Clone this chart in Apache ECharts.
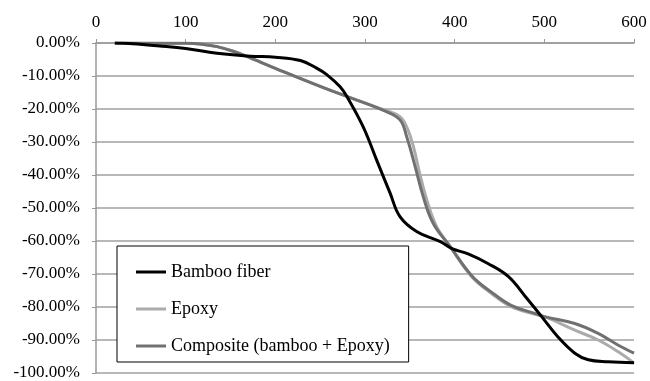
<!DOCTYPE html>
<html>
<head>
<meta charset="utf-8">
<script src="https://cdn.jsdelivr.net/npm/echarts@6/dist/echarts.min.js"></script>
<style>html,body{margin:0;padding:0;background:#fff}#c{width:650px;height:381px}</style>
</head>
<body>
<div id="c"></div>
<script>
const seriesNames = ['Bamboo fiber', 'Epoxy', 'Composite (bamboo + Epoxy)'];
const xTicks = [0, 100, 200, 300, 400, 500, 600];
const bambooX = [21, 41, 71, 100, 135, 172, 200, 228, 246, 257, 272, 280, 298, 313, 328, 339, 358, 384, 397, 415, 437, 460, 479, 497, 515, 534, 549, 571, 600];
const bambooY = [0, -0.2, -0.9, -1.7, -3.1, -4.0, -4.3, -5.3, -7.6, -9.5, -13.2, -16.3, -25.4, -35.5, -45.5, -52.6, -57.2, -60.2, -62.3, -63.9, -66.8, -70.8, -76.9, -82.9, -89, -94, -96, -96.6, -96.9];
const epoxyX = [21, 100, 116, 135, 153, 172, 209, 255, 281, 322, 339, 346.5, 354, 361, 369, 380, 395, 419, 441, 463, 490, 501, 534, 560, 582, 600];
const epoxyY = [0, -0.1, -0.3, -1.1, -2.5, -4.5, -8.7, -13.7, -16.3, -20.3, -22.3, -25.4, -31.4, -39.5, -47.6, -55.7, -61.7, -70.8, -75.9, -79.9, -82.2, -83, -87, -90, -93.5, -97];
const compositeX = [21, 100, 116, 135, 153, 172, 209, 255, 281, 322, 339, 346.5, 356, 365, 376, 395, 419, 441, 463, 490, 501, 534, 560, 582, 600];
const compositeY = [0, -0.1, -0.3, -1.1, -2.5, -4.5, -8.7, -13.7, -16.3, -20.6, -23.3, -28.4, -37.5, -46.6, -54.6, -61.7, -70.5, -75.5, -79.5, -82, -83, -85, -88, -91.5, -94];

function pairs(xs, ys) { return xs.map((x, i) => [x, ys[i]]); }

const chart = echarts.init(document.getElementById('c'));
const font = 'Liberation Serif';
chart.setOption({
  animation: false,
  backgroundColor: '#fff',
  grid: { left: 96, right: 16, top: 43, bottom: 8, containLabel: false, outerBoundsMode: 'none' },
  xAxis: {
    type: 'value', position: 'top', min: 0, max: 600, interval: 100,
    axisLine: { show: true, onZero: false, lineStyle: { color: '#999', width: 1.5 } },
    axisTick: { show: true, length: 4, lineStyle: { color: '#999' } },
    axisLabel: { fontFamily: font, fontSize: 17, color: '#000', margin: 12,
      formatter: v => xTicks.includes(v) ? String(v) : '' },
    splitLine: { show: false }
  },
  yAxis: {
    type: 'value', min: -100, max: 0, interval: 10,
    axisLine: { show: true, lineStyle: { color: '#999', width: 1.5 } },
    axisTick: { show: true, length: 4, lineStyle: { color: '#999' } },
    axisLabel: { fontFamily: font, fontSize: 17, color: '#000', margin: 16,
      formatter: v => v.toFixed(2) + '%' },
    splitLine: { show: true, lineStyle: { color: '#a0a0a0', width: 1.5 } }
  },
  legend: {
    orient: 'vertical', left: 117, top: 246,
    backgroundColor: '#fff', borderColor: '#000', borderWidth: 1,
    padding: [17, 19, 7, 19], itemGap: 19,
    icon: 'rect', itemWidth: 30, itemHeight: 3,
    textStyle: { fontFamily: font, fontSize: 18, color: '#000' },
    data: seriesNames
  },
  series: [
    { name: seriesNames[1], type: 'line', smooth: 0.4, symbol: 'none', color: '#ababab', lineStyle: { width: 3 }, data: pairs(epoxyX, epoxyY), z: 2 },
    { name: seriesNames[2], type: 'line', smooth: 0.4, symbol: 'none', color: '#707070', lineStyle: { width: 3 }, data: pairs(compositeX, compositeY), z: 3 },
    { name: seriesNames[0], type: 'line', smooth: 0.4, symbol: 'none', color: '#000', lineStyle: { width: 3 }, data: pairs(bambooX, bambooY), z: 4 }
  ]
});
</script>
</body>
</html>
